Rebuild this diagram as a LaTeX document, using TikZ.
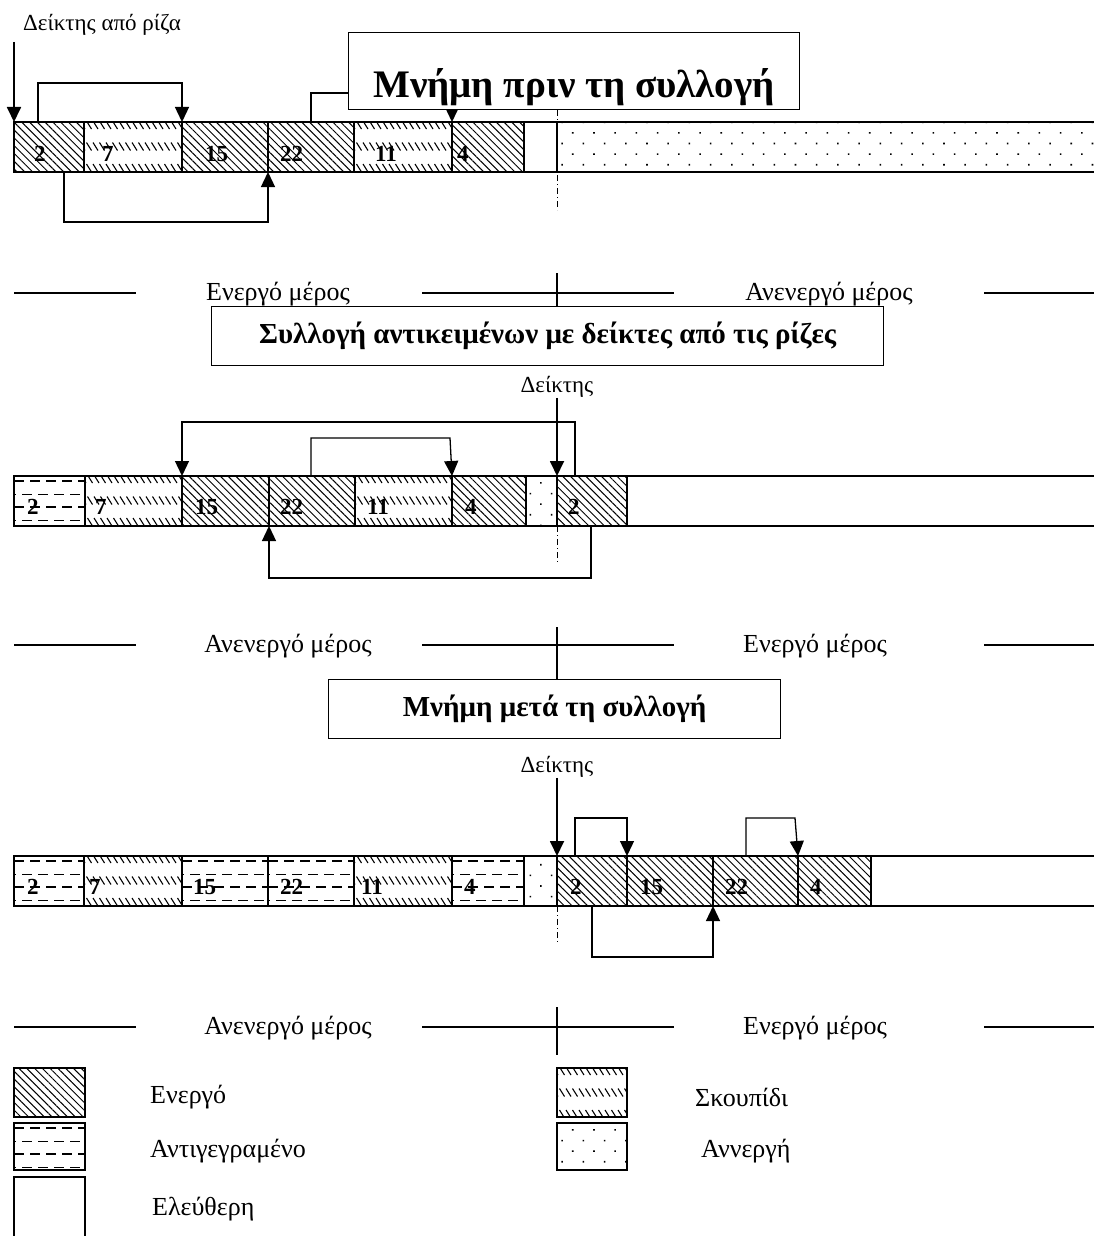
\documentclass[tikz,border=0pt]{standalone}
\usepackage{fontspec}
\setmainfont{Liberation Serif}
\usetikzlibrary{arrows.meta,patterns.meta}

\tikzset{
  cell/.style={draw, line width=1.1pt, minimum height=50pt, inner sep=0pt, outer sep=0pt, anchor=north west},
  active/.style={cell, pattern={Lines[angle=-45,distance=5.5pt,line width=1pt]}},
  garbage/.style={cell, path picture={
      \foreach \j in {0,1,2}
        \foreach \i in {0,...,17}
          \draw[line width=1.1pt]
            ([xshift=\i*6.5pt-4pt, yshift=-\j*21.5pt+1pt]path picture bounding box.north west) -- ++(5,8);
    }},
  copied/.style={cell, path picture={
      \foreach \j/\p/\w in {0/0pt/1.6pt,1/8pt/1pt,2/0pt/1.6pt,3/8pt/1pt}
        \draw[line width=\w, dash pattern=on 10pt off 6pt, dash phase=\p]
          ([yshift=-5pt-\j*13pt]path picture bounding box.north west) -- ++(110,0);
    }},
  inactive/.style={cell, pattern={Dots[angle=45,distance=15pt,radius=1.1pt]}},
  free/.style={cell},
  num/.style={font=\bfseries\fontsize{23}{23}\selectfont, inner sep=0pt, anchor=west},
  txt/.style={font=\fontsize{26}{26}\selectfont, inner sep=0pt},
  ptrtxt/.style={font=\fontsize{23}{23}\selectfont, inner sep=0pt},
  title/.style={draw, line width=1.2pt, fill=white, anchor=north west, inner sep=0pt,
    font=\bfseries\fontsize{29}{29}\selectfont},
  link/.style={line width=1.3pt, -{Triangle[length=15pt,width=14pt]}},
  ptr/.style={link, line width=1.8pt},
  rule/.style={line width=1.1pt},
  dashdot/.style={line width=.8pt, dash pattern=on 6pt off 3pt on 1pt off 3pt},
}

\begin{document}
\begin{tikzpicture}[x=1pt, y=-1pt]
  \useasboundingbox (0,0) rectangle (1094,1236);

  % memory before the collection
  \node[ptrtxt, anchor=west] (rootlbl) at (23,25) {Δείκτης από ρίζα};
  \node[active, minimum width=70pt] (r1a) at (14,122) {};
  \node[garbage, minimum width=98pt] (r1b) at (84,122) {};
  \node[active, minimum width=86pt] (r1c) at (182,122) {};
  \node[active, minimum width=86pt] (r1d) at (268,122) {};
  \node[garbage, minimum width=98pt] (r1e) at (354,122) {};
  \node[active, minimum width=72pt] (r1f) at (452,122) {};
  \node[free, minimum width=33pt] (r1g) at (524,122) {};
  \node[inactive, minimum width=560pt] (r1h) at (557,122) {};
  \node[num] (n1a) at (34,154) {2};
  \node[num] (n1b) at (102,154) {7};
  \node[num] (n1c) at (205,154) {15};
  \node[num] (n1d) at (280,154) {22};
  \node[num] (n1e) at (375,154) {11};
  \node[num] (n1f) at (457,154) {4};
  \coordinate (rootp) at (14,42);
  \draw[ptr] (rootp) -- (r1a.north west);
  \draw[link] ([xshift=24pt]r1a.north west) -- ++(0,-39) -| (r1c.north west);
  \draw[link] ([xshift=50pt]r1a.south west) -- ++(0,50) -| (r1d.south west);
  \draw[link] ([xshift=43pt]r1d.north west) -- ++(0,-29) -| (r1f.north west);
  \draw[dashdot] ([yshift=12pt]r1h.north west) -- ([yshift=-38pt]r1h.south west);
  \node[title, minimum width=451pt, minimum height=77pt, text height=53pt, text depth=0pt,
    font=\bfseries\fontsize{39}{39}\selectfont] (before) at (348,32) {Μνήμη πριν τη συλλογή};

  % first split
  \draw[rule] (14,293) -- (136,293) (422,293) -- (674,293) (984,293) -- (1094,293);
  \draw[rule] (557,273) -- (557,306);
  \node[txt, anchor=base] (act1) at (278,300) {Ενεργό μέρος};
  \node[txt, anchor=base] (inact1) at (829,300) {Ανενεργό μέρος};
  \node[title, minimum width=672pt, minimum height=59pt] (sweep) at (211,306)
    {Συλλογή αντικειμένων με δείκτες από τις ρίζες};
  \node[ptrtxt] (ptr2lbl) at (557,387) {Δείκτης};

  % during the collection
  \node[copied, minimum width=71pt] (r2a) at (14,476) {};
  \node[garbage, minimum width=97pt] (r2b) at (85,476) {};
  \node[active, minimum width=87pt] (r2c) at (182,476) {};
  \node[active, minimum width=86pt] (r2d) at (269,476) {};
  \node[garbage, minimum width=97pt] (r2e) at (355,476) {};
  \node[active, minimum width=74pt] (r2f) at (452,476) {};
  \node[inactive, minimum width=31pt] (r2g) at (526,476) {};
  \node[active, minimum width=70pt] (r2h) at (557,476) {};
  \node[free, minimum width=480pt] (r2i) at (627,476) {};
  \node[num] (n2a) at (27,507) {2};
  \node[num] (n2b) at (95,507) {7};
  \node[num] (n2c) at (195,507) {15};
  \node[num] (n2d) at (280,507) {22};
  \node[num] (n2e) at (367,507) {11};
  \node[num] (n2f) at (465,507) {4};
  \node[num] (n2h) at (568,507) {2};
  \draw[ptr] (ptr2lbl.south) -- (r2h.north west);
  \draw[link] ([xshift=18pt]r2h.north west) -- ++(0,-54) -| (r2c.north west);
  \draw[link] ([xshift=42pt]r2d.north west) -- ++(0,-38) -- ++(139,0) -- (r2f.north west);
  \draw[link] ([xshift=34pt]r2h.south west) -- ++(0,52) -| (r2d.south west);
  \draw[dashdot] (r2h.south west) -- ++(0,37);

  % second split
  \draw[rule] (14,645) -- (136,645) (422,645) -- (674,645) (984,645) -- (1094,645);
  \draw[rule] (557,627) -- (557,679);
  \node[txt, anchor=base] (inact2) at (288,652) {Ανενεργό μέρος};
  \node[txt, anchor=base] (act2) at (815,652) {Ενεργό μέρος};
  \node[title, minimum width=452pt, minimum height=59pt] (after) at (328,679)
    {Μνήμη μετά τη συλλογή};
  \node[ptrtxt] (ptr3lbl) at (557,767) {Δείκτης};

  % memory after the collection
  \node[copied, minimum width=70pt] (r3a) at (14,856) {};
  \node[garbage, minimum width=98pt] (r3b) at (84,856) {};
  \node[copied, minimum width=86pt] (r3c) at (182,856) {};
  \node[copied, minimum width=86pt] (r3d) at (268,856) {};
  \node[garbage, minimum width=98pt] (r3e) at (354,856) {};
  \node[copied, minimum width=72pt] (r3f) at (452,856) {};
  \node[inactive, minimum width=33pt] (r3g) at (524,856) {};
  \node[active, minimum width=70pt] (r3h) at (557,856) {};
  \node[active, minimum width=86pt] (r3i) at (627,856) {};
  \node[active, minimum width=85pt] (r3j) at (713,856) {};
  \node[active, minimum width=73pt] (r3k) at (798,856) {};
  \node[free, minimum width=240pt] (r3l) at (871,856) {};
  \node[num] (n3a) at (27,887) {2};
  \node[num] (n3b) at (89,887) {7};
  \node[num] (n3c) at (193,887) {15};
  \node[num] (n3d) at (280,887) {22};
  \node[num] (n3e) at (361,887) {11};
  \node[num] (n3f) at (464,887) {4};
  \node[num] (n3h) at (570,887) {2};
  \node[num] (n3i) at (640,887) {15};
  \node[num] (n3j) at (725,887) {22};
  \node[num] (n3k) at (810,887) {4};
  \draw[ptr] (ptr3lbl.south) -- (r3h.north west);
  \draw[link] ([xshift=18pt]r3h.north west) -- ++(0,-38) -| (r3i.north west);
  \draw[link] ([xshift=33pt]r3j.north west) -- ++(0,-38) -- ++(49,0) -- (r3k.north west);
  \draw[link] ([xshift=35pt]r3h.south west) -- ++(0,51) -| (r3j.south west);
  \draw[dashdot] (r3h.south west) -- ++(0,37);

  % third split
  \draw[rule] (14,1027) -- (136,1027) (422,1027) -- (674,1027) (984,1027) -- (1094,1027);
  \draw[rule] (557,1007) -- (557,1055);
  \node[txt, anchor=base] (inact3) at (288,1034) {Ανενεργό μέρος};
  \node[txt, anchor=base] (act3) at (815,1034) {Ενεργό μέρος};

  % legend
  \node[active, minimum width=71pt, minimum height=49pt] (k1) at (14,1068) {};
  \node[copied, minimum width=71pt, minimum height=47pt] (k2) at (14,1123) {};
  \node[free, minimum width=71pt, minimum height=70pt] (k3) at (14,1177) {};
  \node[garbage, minimum width=70pt, minimum height=49pt] (k4) at (557,1068) {};
  \node[inactive, minimum width=70pt, minimum height=47pt] (k5) at (557,1123) {};
  \node[txt, anchor=west] (k1t) at (150,1097) {Ενεργό};
  \node[txt, anchor=west] (k2t) at (150,1151) {Αντιγεγραμένο};
  \node[txt, anchor=west] (k3t) at (152,1209) {Ελεύθερη};
  \node[txt, anchor=west] (k4t) at (695,1097) {Σκουπίδι};
  \node[txt, anchor=west] (k5t) at (701,1151) {Αννεργή};
\end{tikzpicture}
\end{document}
